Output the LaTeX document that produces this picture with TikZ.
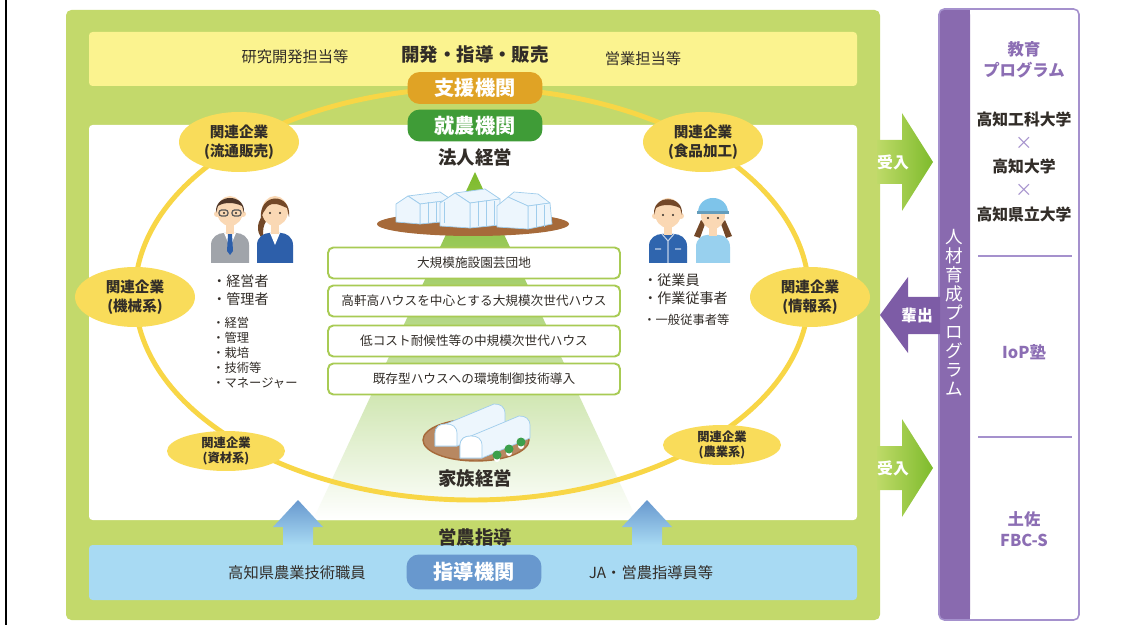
\documentclass[tikz,border=0pt]{standalone}
\usepackage{fontspec}
\setmainfont{Noto Sans CJK JP}
\usepackage{tikz}
\usetikzlibrary{shapes.geometric}

\definecolor{framegreen}{RGB}{195,217,107}
\definecolor{bandyellow}{RGB}{251,243,143}
\definecolor{bandblue}{RGB}{168,218,243}
\definecolor{ringyellow}{RGB}{248,214,70}
\definecolor{bubbleyellow}{RGB}{249,220,90}
\definecolor{supportgold}{RGB}{224,163,37}
\definecolor{farmgreen}{RGB}{63,156,55}
\definecolor{guideblue}{RGB}{104,152,206}
\definecolor{boxgreen}{RGB}{168,203,84}
\definecolor{darktext}{RGB}{50,45,40}
\definecolor{purplebar}{RGB}{137,106,175}
\definecolor{purpleline}{RGB}{165,145,205}
\definecolor{purpletext}{RGB}{140,110,180}
\definecolor{arrowgreen}{RGB}{126,187,44}
\definecolor{lightgreen}{RGB}{190,218,104}
\definecolor{arrowpurple}{RGB}{125,92,166}
\definecolor{soil}{RGB}{166,106,58}
\definecolor{glass}{RGB}{214,236,250}
\definecolor{glassline}{RGB}{160,205,236}
\definecolor{skin}{RGB}{250,216,180}
\definecolor{hairbrown}{RGB}{115,72,40}
\definecolor{hairdark}{RGB}{80,55,40}
\definecolor{suitgray}{RGB}{160,164,170}
\definecolor{suitblue}{RGB}{45,95,170}
\definecolor{workblue}{RGB}{47,101,174}
\definecolor{capblue}{RGB}{126,196,234}
\definecolor{leaf}{RGB}{60,160,75}

\tikzset{
	company/.style={ellipse, fill=bubbleyellow, inner sep=0pt, align=center, text=darktext,
		font=\fontsize{8.3}{10.5}\selectfont\bfseries, minimum width=2.4cm, minimum height=1.2cm},
	company small/.style={company, font=\fontsize{7}{8.4}\selectfont\bfseries,
		minimum width=2.36cm, minimum height=0.8cm},
	agency/.style={rounded corners=7pt, minimum width=2.7cm, minimum height=0.64cm, inner sep=0pt,
		text=white, font=\fontsize{11.5}{12}\selectfont\bfseries},
	layer/.style={draw=boxgreen, line width=1.1pt, fill=white, rounded corners=3pt, inner sep=0pt,
		minimum width=5.84cm, minimum height=0.62cm, text=darktext, font=\fontsize{7.2}{8}\selectfont},
	heading/.style={text=darktext, inner sep=0pt, font=\fontsize{10.5}{12}\selectfont\bfseries},
	side/.style={text=darktext, inner sep=0pt, font=\fontsize{8.7}{10}\selectfont},
	role/.style={text=darktext, inner sep=0pt, anchor=west, font=\fontsize{8}{9}\selectfont},
	task/.style={text=darktext, inner sep=0pt, anchor=west, font=\fontsize{7}{8}\selectfont},
	school/.style={text=darktext, inner sep=0pt, font=\fontsize{9}{10}\selectfont\bfseries},
	course/.style={text=purpletext, inner sep=0pt, align=center, font=\fontsize{9.3}{12}\selectfont\bfseries},
	times/.style={text=purpleline, inner sep=0pt, font=\fontsize{10}{10}\selectfont},
	flow/.style={text=white, inner sep=0pt, font=\fontsize{9}{10}\selectfont\bfseries},
	house/.style={fill=white!55!glass, draw=glassline, line width=0.4pt, line join=round},
}

\begin{document}
\begin{tikzpicture}[x=0.02cm, y=-0.02cm]
	\useasboundingbox (0,0) rectangle (1134,625);
	\draw[line width=1.1pt] (6,0) -- (6,625);

	% frame and the three bands
	\fill[framegreen, rounded corners=3pt] (66,10) rectangle (880,620);
	\fill[bandyellow, rounded corners=2pt] (89,32) rectangle (857,86);
	\fill[white, rounded corners=2pt] (89,125) rectangle (857,520);
	\fill[bandblue, rounded corners=2pt] (89,545) rectangle (857,600);

	\shade[top color=arrowgreen, bottom color=white] (475,172) -- (637,520) -- (313,520) -- cycle;

	% ring of related companies
	\pgfmathsetmacro\RX{337}
	\pgfmathsetmacro\RY{206}
	\coordinate (ring) at (472,294);
	\draw[ringyellow, line width=2.8pt] (ring) ellipse [x radius=\RX, y radius=\RY];

	% large greenhouses
	\fill[soil] (473,224) ellipse [x radius=96, y radius=12];
	\filldraw[house] (440,192) -- (408,196) -- (420,204) -- (452,200) -- cycle;
	\filldraw[house] (420,224) -- (420,204) -- (452,200) -- (452,221) -- cycle;
	\filldraw[house] (396,222) -- (396,204) -- (408,196) -- (420,204) -- (420,224) -- cycle;
	\filldraw[house] (485,189) -- (455,193) -- (470,203) -- (500,199) -- cycle;
	\filldraw[house] (470,228) -- (470,203) -- (500,199) -- (500,225) -- cycle;
	\filldraw[house] (440,226) -- (440,203) -- (455,193) -- (470,203) -- (470,228) -- cycle;
	\filldraw[house] (514,192) -- (508,197) -- (528,206) -- (550,203) -- (538,194) -- cycle;
	\filldraw[house] (528,229) -- (528,206) -- (550,203) -- (552,224) -- cycle;
	\filldraw[house] (497,227) -- (497,206) -- (508,197) -- (528,206) -- (528,229) -- cycle;
	\foreach \x in {428,436,444} \draw[glassline, line width=0.3pt] (\x,202) -- (\x,223);
	\foreach \x in {478,486,494} \draw[glassline, line width=0.3pt] (\x,201) -- (\x,226);
	\foreach \x in {536,544} \draw[glassline, line width=0.3pt] (\x,205) -- (\x,227);

	% family farm tunnels
	\filldraw[fill=soil!80!white, draw=soil, line width=0.8pt] (476,440) ellipse [x radius=53, y radius=21];
	\filldraw[house] (435,446) -- (435,434) .. controls (435,426) and (440,424) .. (446,424) -- (494,404)
		.. controls (500,404) and (505,406) .. (505,414) -- (505,426) -- (457,446) -- cycle;
	\filldraw[fill=white, draw=glassline, line width=0.4pt] (435,446) -- (435,434) .. controls (435,426) and (440,424) .. (446,424)
		.. controls (452,424) and (457,426) .. (457,434) -- (457,446) -- cycle;
	\filldraw[house] (460,458) -- (460,446) .. controls (460,438) and (465,436) .. (471,436) -- (519,416)
		.. controls (525,416) and (530,418) .. (530,426) -- (530,438) -- (482,458) -- cycle;
	\filldraw[fill=white, draw=glassline, line width=0.4pt] (460,458) -- (460,446) .. controls (460,438) and (465,436) .. (471,436)
		.. controls (477,436) and (482,438) .. (482,446) -- (482,458) -- cycle;
	\foreach \x/\y in {497/455, 509/449, 521/442} {
		\fill[white] (\x,\y+4) circle [radius=3];
		\fill[leaf] (\x,\y) circle [radius=4.5];
	}

	% level boxes
	\node[layer] (layer1) at (474,263) {大規模施設園芸団地};
	\node[layer] (layer2) at (474,301) {高軒高ハウスを中心とする大規模次世代ハウス};
	\node[layer] (layer3) at (474,341) {低コスト耐候性等の中規模次世代ハウス};
	\node[layer] (layer4) at (474,379) {既存型ハウスへの環境制御技術導入};

	\node[company] (ryutsu) at (239,142) {関連企業\\(流通販売)};
	\node[company] (shokuhin) at (703,142) {関連企業\\(食品加工)};
	\node[company] (kikai) at (135,297) {関連企業\\(機械系)};
	\node[company] (joho) at (810,297) {関連企業\\(情報系)};
	\node[company small] (shizai) at (226,451) {関連企業\\(資材系)};
	\node[company small] (nogyo) at (722,445) {関連企業\\(農業系)};

	\node[agency, fill=supportgold] (shien) at (475,88) {支援機関};
	\node[agency, fill=farmgreen] (shunou) at (475,125.5) {就農機関};
	\node[agency, fill=guideblue, minimum height=0.7cm] (shidou) at (474,572) {指導機関};

	\node[heading] (kaihatsu) at (475,55) {開発・指導・販売};
	\node[side] (kenkyu) at (295,57) {研究開発担当等};
	\node[side] (eigyo) at (643,59) {営業担当等};
	\node[heading] (houjin) at (475,157) {法人経営};
	\node[heading] (kazoku) at (475,478) {家族経営};
	\node[heading] (einou) at (475,537) {営農指導};
	\node[side] (shokuin) at (297,573) {高知県農業技術職員};
	\node[side] (ja) at (651,573) {JA・営農指導員等};

	% managers
	\begin{scope}[shift={(230,211)}]
		\fill[suitgray] (-19,52) -- (-19,34) .. controls (-19,26) and (-12,22) .. (-6,22) -- (6,22)
			.. controls (12,22) and (19,26) .. (19,34) -- (19,52) -- cycle;
		\fill[white] (-6,22) -- (6,22) -- (0,36) -- cycle;
		\fill[suitblue] (-2,23) -- (2,23) -- (3,40) -- (0,44) -- (-3,40) -- cycle;
		\fill[skin] (-4,12) rectangle (4,23);
		\fill[skin] (-13,3) circle [radius=3];
		\fill[skin] (13,3) circle [radius=3];
		\fill[skin] (0,0) ellipse [x radius=13, y radius=15];
		\fill[hairdark] (-14,2) .. controls (-16,-18) and (16,-18) .. (14,2) -- (12,-5)
			.. controls (4,-9) and (-6,-9) .. (-12,-5) -- cycle;
		\draw[gray!70!black, line width=0.7pt, rounded corners=1.5pt] (-11,-1) rectangle (-2,5) (2,-1) rectangle (11,5);
		\fill[darktext] (-6,2) circle [radius=1.2];
		\fill[darktext] (6,2) circle [radius=1.2];
	\end{scope}
	\begin{scope}[shift={(275,211)}]
		\fill[hairbrown] (-12,4) .. controls (-20,14) and (-18,24) .. (-10,30) .. controls (-14,20) and (-11,12) .. (-7,8) -- cycle;
		\fill[suitblue] (-18,52) -- (-18,34) .. controls (-18,26) and (-11,22) .. (-6,22) -- (6,22)
			.. controls (11,22) and (18,26) .. (18,34) -- (18,52) -- cycle;
		\fill[white] (-5,22) -- (5,22) -- (0,34) -- cycle;
		\fill[skin] (-4,12) rectangle (4,23);
		\fill[skin] (0,0) ellipse [x radius=13, y radius=15];
		\fill[hairbrown] (-14,8) .. controls (-17,-19) and (17,-19) .. (14,6) -- (12,-3)
			.. controls (5,-6) and (-2,-10) .. (-8,-4) -- (-12,2) -- cycle;
		\fill[darktext] (-5,2) circle [radius=1.2];
		\fill[darktext] (5,2) circle [radius=1.2];
	\end{scope}

	% workers
	\begin{scope}[shift={(668,213)}]
		\fill[workblue] (-19,50) -- (-19,33) .. controls (-19,25) and (-12,21) .. (-6,21) -- (6,21)
			.. controls (12,21) and (19,25) .. (19,33) -- (19,50) -- cycle;
		\draw[white!70!workblue, line width=0.6pt] (-6,21) -- (0,28) -- (6,21) (0,28) -- (0,50) (-13,36) -- (-7,36) (7,36) -- (13,36);
		\fill[skin] (-4,12) rectangle (4,22);
		\fill[skin] (-13,3) circle [radius=3];
		\fill[skin] (13,3) circle [radius=3];
		\fill[skin] (0,0) ellipse [x radius=13, y radius=15];
		\fill[hairbrown] (-14,2) .. controls (-16,-19) and (16,-19) .. (14,2) -- (12,-5)
			.. controls (4,-9) and (-6,-9) .. (-12,-5) -- cycle;
		\fill[darktext] (-5,2) circle [radius=1.2];
		\fill[darktext] (5,2) circle [radius=1.2];
	\end{scope}
	\begin{scope}[shift={(713,214)}]
		\fill[hairbrown] (-12,6) -- (-19,22) -- (-13,24) -- (-8,10) -- cycle;
		\fill[hairbrown] (12,6) -- (19,22) -- (13,24) -- (8,10) -- cycle;
		\fill[capblue!80!white] (-17,49) -- (-17,33) .. controls (-17,25) and (-11,21) .. (-6,21) -- (6,21)
			.. controls (11,21) and (17,25) .. (17,33) -- (17,49) -- cycle;
		\fill[skin] (-4,12) rectangle (4,22);
		\fill[skin] (0,1) ellipse [x radius=12, y radius=14];
		\fill[capblue] (-15,-1) .. controls (-15,-21) and (15,-21) .. (15,-1) -- cycle;
		\fill[capblue!80!black] (-16,-3) rectangle (16,0);
		\fill[darktext] (-5,4) circle [radius=1.2];
		\fill[darktext] (5,4) circle [radius=1.2];
	\end{scope}

	\node[role] (keieisha) at (212,281) {・経営者};
	\node[role] (kanrisha) at (212,299) {・管理者};
	\node[task] (t1) at (212,323) {・経営};
	\node[task] (t2) at (212,338) {・管理};
	\node[task] (t3) at (212,353) {・栽培};
	\node[task] (t4) at (212,368) {・技術等};
	\node[task] (t5) at (212,383) {・マネージャー};

	\node[role] (jugyoin) at (643,280) {・従業員};
	\node[role] (sagyo) at (643,298) {・作業従事者};
	\node[task] (ippan) at (643,320) {・一般従事者等};

	% guidance arrows
	\foreach \x/\n in {298/upleft, 647/upright}
		\shade[top color=guideblue, bottom color=bandblue] (\x-15,545) -- (\x-15,527) -- (\x-25,527) -- (\x,500)
			-- (\x+25,527) -- (\x+15,527) -- (\x+15,545) -- cycle;

	% training programme panel
	\fill[white] (939,9) rectangle (1079,620);
	\fill[purplebar, rounded corners=3pt] (939,9) rectangle (970,620);
	\fill[purplebar] (960,9) rectangle (970,620);
	\draw[purpleline, line width=0.9pt, rounded corners=3pt] (939,9) rectangle (1079,620);
	\draw[purpleline, line width=0.8pt] (978,256) -- (1072,256);
	\draw[purpleline, line width=0.8pt] (978,437) -- (1072,437);

	\node[text=white, inner sep=0pt, align=center, font=\fontsize{10}{10.8}\selectfont] (jinzai) at (954,313)
		{人\\材\\育\\成\\プ\\ロ\\グ\\ラ\\ム};
	\node[course] (kyoiku) at (1024,60) {教育\\プログラム};
	\node[school] (kochitech) at (1024,119) {高知工科大学};
	\node[times] (x1) at (1024,143) {×};
	\node[school] (kochiuniv) at (1024,166) {高知大学};
	\node[times] (x2) at (1024,190) {×};
	\node[school] (kenritsu) at (1024,214) {高知県立大学};
	\node[course] (iop) at (1024,352) {IoP塾};
	\node[course] (tosa) at (1024,529) {土佐\\FBC-S};

	% in and out arrows
	\foreach \y/\n in {162/ukeire1, 468/ukeire2} {
		\shade[left color=lightgreen, right color=arrowgreen] (877,\y-22) -- (902,\y-22) -- (902,\y-49) -- (933,\y)
			-- (902,\y+49) -- (902,\y+22) -- (877,\y+22) -- cycle;
		\node[flow] (\n) at (893,\y) {受入};
	}
	\fill[arrowpurple] (880,315) -- (908,277) -- (908,297) -- (940,297) -- (940,334) -- (908,334) -- (908,353) -- cycle;
	\node[flow] (haishutsu) at (917,315) {輩出};

\end{tikzpicture}
\end{document}
